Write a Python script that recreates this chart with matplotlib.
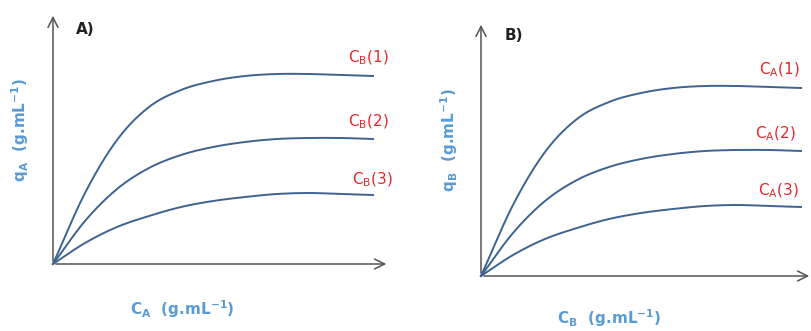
import matplotlib
matplotlib.use("Agg")
import matplotlib.pyplot as plt
import numpy as np

plt.rcParams["mathtext.fontset"] = "dejavusans"
plt.rcParams["mathtext.default"] = "bf"

# Isotherm sketches: loading q vs. concentration, three levels of the other solute.
conc = [0, 32, 64, 96, 128, 160, 192, 224, 256, 288, 320]
q_level1 = [0, 71, 124, 157, 174, 183, 188, 190, 190, 189, 188]
q_level2 = [0, 43, 75, 96, 109, 117, 122, 125, 126, 126, 125]
q_level3 = [0, 21, 37, 48, 57, 63, 67, 70, 71, 70, 69]

labels_a = [r"C$_{\mathregular{B}}$(1)", r"C$_{\mathregular{B}}$(2)", r"C$_{\mathregular{B}}$(3)"]
labels_b = [r"C$_{\mathregular{A}}$(1)", r"C$_{\mathregular{A}}$(2)", r"C$_{\mathregular{A}}$(3)"]

LINE = "#3d6391"
RED = "#e8262b"
BLUE = "#5a9bd4"
AXIS = "#555555"


def smooth(xs, ys, n=30):
    # Catmull-Rom through the sketched points
    xs = np.asarray(xs, float)
    ys = np.asarray(ys, float)
    px = np.r_[2 * xs[0] - xs[1], xs, 2 * xs[-1] - xs[-2]]
    py = np.r_[2 * ys[0] - ys[1], ys, 2 * ys[-1] - ys[-2]]
    outx, outy = [], []
    t = np.linspace(0, 1, n, endpoint=False)
    for i in range(1, len(px) - 2):
        for p, out in ((px, outx), (py, outy)):
            p0, p1, p2, p3 = p[i - 1], p[i], p[i + 1], p[i + 2]
            out.extend(0.5 * (2 * p1 + (-p0 + p2) * t
                              + (2 * p0 - 5 * p1 + 4 * p2 - p3) * t ** 2
                              + (-p0 + 3 * p1 - 3 * p2 + p3) * t ** 3))
    outx.append(xs[-1])
    outy.append(ys[-1])
    return outx, outy


def panel(ax, tag, curve_labels, xlabel, ylabel, x_end, y_top, label_pos, xlab_pos, ylab_pos, tag_pos):
    arrow = dict(arrowstyle="->", color=AXIS, lw=1.1, mutation_scale=18)
    ax.annotate("", xy=(x_end, 0), xytext=(0, 0), arrowprops=arrow, annotation_clip=False)
    ax.annotate("", xy=(0, y_top), xytext=(0, 0), arrowprops=arrow, annotation_clip=False)
    for ys, lab, (lx, ly) in zip((q_level1, q_level2, q_level3), curve_labels, label_pos):
        sx, sy = smooth(conc, ys)
        ax.plot(sx, sy, color=LINE, lw=1.4)
        ax.text(lx, ly, lab, color=RED, fontsize=11, ha="center", va="center")
    ax.text(*tag_pos, tag, fontsize=11, fontweight="bold", color="#222222",
            ha="center", va="center")
    ax.text(*xlab_pos, xlabel, fontsize=11, fontweight="bold", color=BLUE,
            ha="center", va="center")
    ax.text(*ylab_pos, ylabel, fontsize=11, fontweight="bold", color=BLUE,
            ha="center", va="center", rotation=90)
    ax.axis("off")


fig = plt.figure(figsize=(8.12, 3.31), dpi=100)
ax_a = fig.add_axes([0, 0, 0.5, 1])
ax_b = fig.add_axes([0.5, 0, 0.5, 1])
ax_a.set_xlim(-53, 353)
ax_a.set_ylim(-67, 264)
ax_b.set_xlim(-75, 331)
ax_b.set_ylim(-55, 276)

panel(ax_a, "A)", labels_a,
      r"C$_{\mathregular{A}}$  (g.mL$^{-1}$)", r"q$_{\mathregular{A}}$  (g.mL$^{-1}$)",
      x_end=336, y_top=251,
      label_pos=[(315, 206), (315, 142), (319, 84)],
      xlab_pos=(129, -45), ylab_pos=(-33, 134), tag_pos=(32, 235))
panel(ax_b, "B)", labels_b,
      r"C$_{\mathregular{B}}$  (g.mL$^{-1}$)", r"q$_{\mathregular{B}}$  (g.mL$^{-1}$)",
      x_end=331, y_top=254,
      label_pos=[(298, 206), (294, 142), (297, 85)],
      xlab_pos=(128, -42), ylab_pos=(-32, 136), tag_pos=(33, 241))

fig.savefig("out.png", dpi=100)
